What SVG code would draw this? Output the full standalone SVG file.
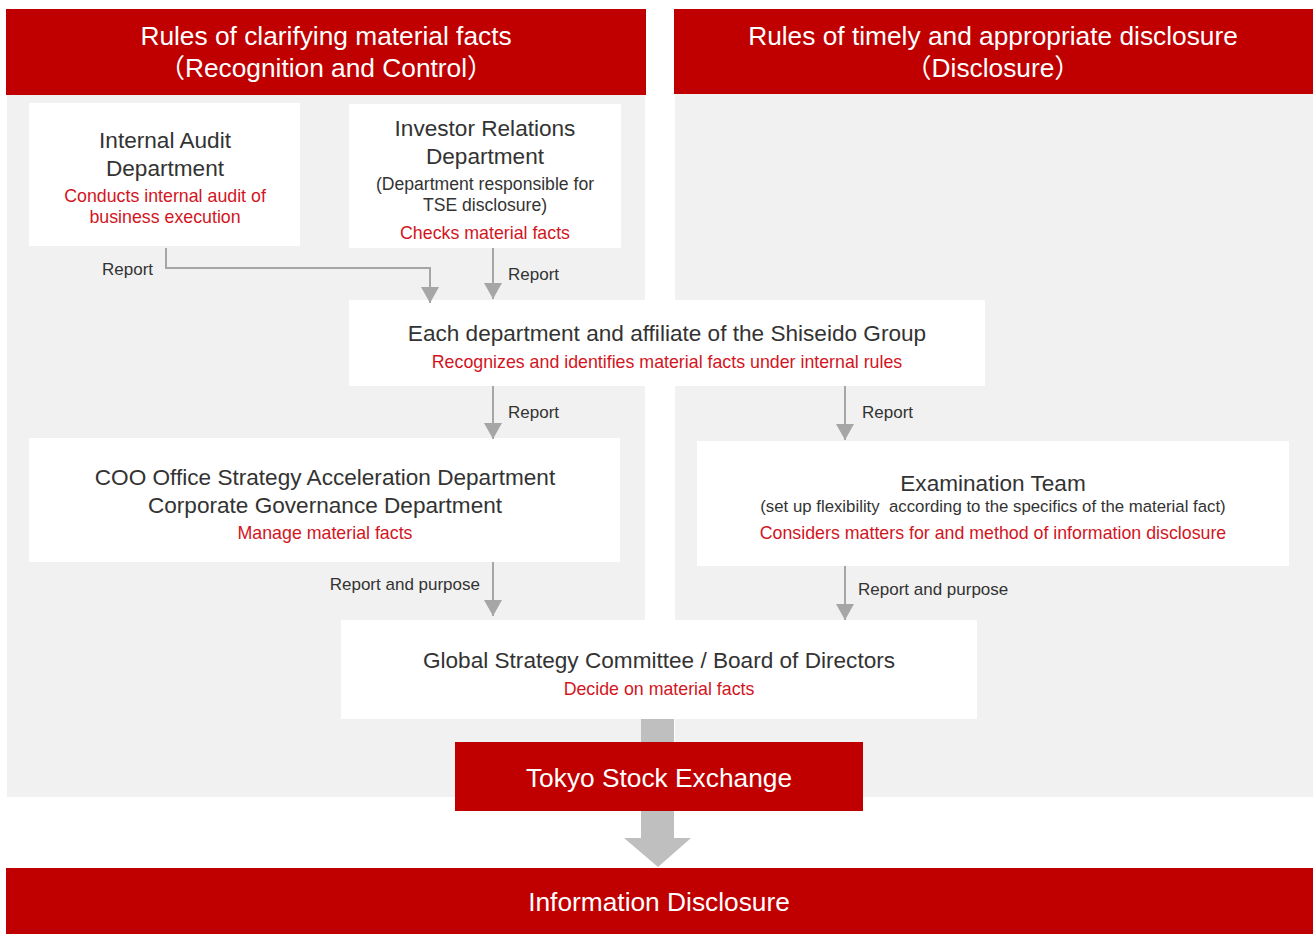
<svg xmlns="http://www.w3.org/2000/svg" width="1313" height="934" viewBox="0 0 1313 934">
<defs>
<style>
text{font-family:"Liberation Sans","Noto Sans CJK JP",Arial,sans-serif;text-anchor:middle}
.hd{fill:#ffffff;font-size:26.3px}
.t{fill:#333333;font-size:22.6px}
.s{fill:#333333;font-size:17.6px}
.xs{fill:#333333;font-size:16.8px}
.r{fill:#d2151e;font-size:17.8px}
.lb{fill:#333333;font-size:17px;text-anchor:start}
.lbe{fill:#333333;font-size:17px;text-anchor:end}
.red{fill:#c00000}
.panel{fill:#f1f1f1}
.box{fill:#ffffff}
.cn{fill:none;stroke:#a6a6a6;stroke-width:2}
</style>
<marker id="ah" markerUnits="userSpaceOnUse" markerWidth="18" markerHeight="18" refX="16" refY="9" orient="auto" viewBox="0 0 16 18">
<path d="M0,0 L16,9 L0,18 z" fill="#a6a6a6"/>
</marker>
</defs>
<rect width="1313" height="934" fill="#ffffff"/>
<g id="panel-left">
<rect class="panel" x="7" y="95" width="638" height="702"/>
<rect class="red" x="6" y="9" width="640" height="86"/>
<text class="hd" x="326" y="45">Rules of clarifying material facts</text>
<text class="hd" x="326" y="77">（Recognition and Control）</text>
</g>
<g id="panel-right">
<rect class="panel" x="675" y="94" width="638" height="703"/>
<rect class="red" x="674" y="9" width="639" height="85"/>
<text class="hd" x="993" y="45">Rules of timely and appropriate disclosure</text>
<text class="hd" x="993" y="77">（Disclosure）</text>
</g>
<g id="block-arrow">
<rect x="641" y="719" width="33" height="30" fill="#bfbfbf"/>
<path d="M641,805 L674,805 L674,838 L691,838 L658,867 L624,838 L641,838 z" fill="#bfbfbf"/>
</g>
<g id="node-internal-audit">
<rect class="box" x="29" y="103" width="271" height="143"/>
<text class="t" x="165" y="148">Internal Audit</text>
<text class="t" x="165" y="176">Department</text>
<text class="r" x="165" y="202">Conducts internal audit of</text>
<text class="r" x="165" y="223">business execution</text>
</g>
<g id="node-investor-relations">
<rect class="box" x="349" y="104" width="272" height="144"/>
<text class="t" x="485" y="136">Investor Relations</text>
<text class="t" x="485" y="164">Department</text>
<text class="s" x="485" y="190">(Department responsible for</text>
<text class="s" x="485" y="211">TSE disclosure)</text>
<text class="r" x="485" y="239">Checks material facts</text>
</g>
<g id="node-each-department">
<rect class="box" x="349" y="300" width="636" height="86"/>
<text class="t" x="667" y="341">Each department and affiliate of the Shiseido Group</text>
<text class="r" x="667" y="368">Recognizes and identifies material facts under internal rules</text>
</g>
<g id="node-coo">
<rect class="box" x="29" y="438" width="591" height="124"/>
<text class="t" x="325" y="485">COO Office Strategy Acceleration Department</text>
<text class="t" x="325" y="513">Corporate Governance Department</text>
<text class="r" x="325" y="539">Manage material facts</text>
</g>
<g id="node-examination">
<rect class="box" x="697" y="441" width="592" height="125"/>
<text class="t" x="993" y="491">Examination Team</text>
<text class="xs" x="993" y="512" xml:space="preserve">(set up flexibility  according to the specifics of the material fact)</text>
<text class="r" x="993" y="539">Considers matters for and method of information disclosure</text>
</g>
<g id="node-global">
<rect class="box" x="341" y="620" width="636" height="99"/>
<text class="t" x="659" y="668">Global Strategy Committee / Board of Directors</text>
<text class="r" x="659" y="695">Decide on material facts</text>
</g>
<g id="node-tse">
<rect class="red" x="455" y="742" width="408" height="69"/>
<text class="hd" x="659" y="787">Tokyo Stock Exchange</text>
</g>
<g id="node-info">
<rect class="red" x="6" y="868" width="1307" height="66"/>
<text class="hd" x="659" y="911">Information Disclosure</text>
</g>
<g id="connectors">
<path class="cn" d="M166,248 L166,268 L430,268 L430,303" marker-end="url(#ah)"/>
<text class="lb" x="102" y="275">Report</text>
<path class="cn" d="M493,248 L493,299" marker-end="url(#ah)"/>
<text class="lb" x="508" y="280">Report</text>
<path class="cn" d="M493,386 L493,439" marker-end="url(#ah)"/>
<text class="lb" x="508" y="418">Report</text>
<path class="cn" d="M845,386 L845,440" marker-end="url(#ah)"/>
<text class="lb" x="862" y="418">Report</text>
<path class="cn" d="M493,562 L493,616" marker-end="url(#ah)"/>
<text class="lbe" x="480" y="590">Report and purpose</text>
<path class="cn" d="M845,566 L845,620" marker-end="url(#ah)"/>
<text class="lb" x="858" y="595">Report and purpose</text>
</g>
</svg>
